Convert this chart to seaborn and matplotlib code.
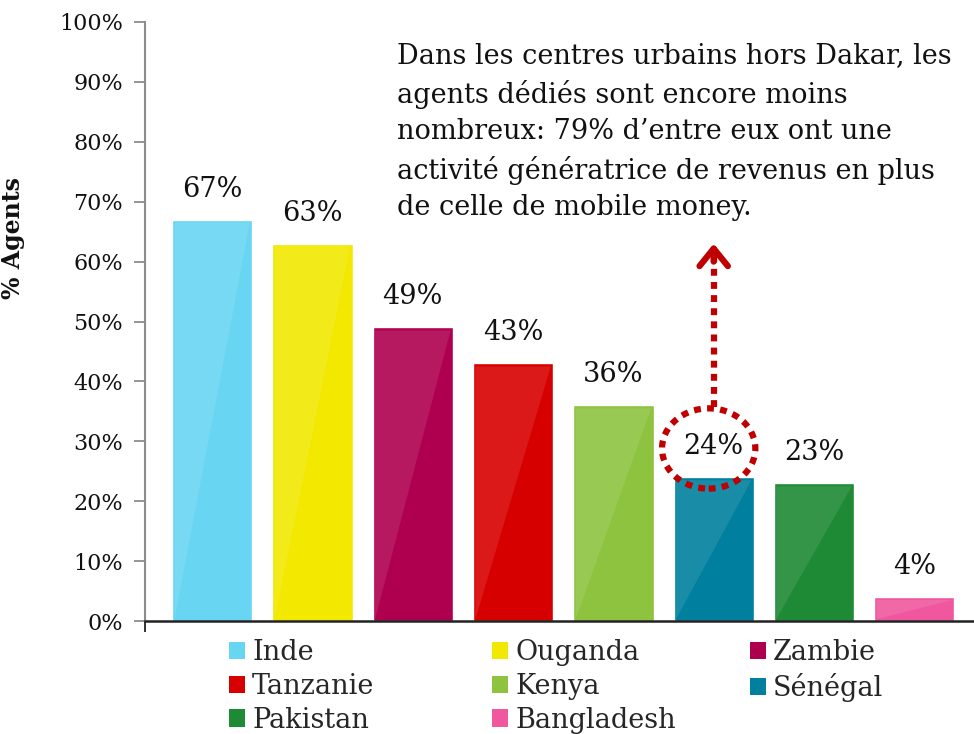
import matplotlib
matplotlib.use("Agg")
import matplotlib.pyplot as plt
import seaborn as sns
import pandas as pd
from matplotlib.patches import Patch, Polygon, Ellipse

countries = ["Inde", "Ouganda", "Zambie", "Tanzanie", "Kenya", "Sénégal", "Pakistan", "Bangladesh"]
values = [67, 63, 49, 43, 36, 24, 23, 4]
colors = ["#68D5F2", "#F2E800", "#AF0050", "#D70000", "#8DC33F", "#007F9F", "#1E8A35", "#F0579E"]
yticks = [0, 10, 20, 30, 40, 50, 60, 70, 80, 90, 100]
annotation = ("Dans les centres urbains hors Dakar, les\n"
              "agents dédiés sont encore moins\n"
              "nombreux: 79% d\u2019entre eux ont une\n"
              "activité génératrice de revenus en plus\n"
              "de celle de mobile money.")

sns.set_theme(style="white")
plt.rcParams["font.family"] = ["DejaVu Serif"]

df = pd.DataFrame({"pays": countries, "val": values})

fig = plt.figure(figsize=(9.74, 7.34), dpi=100)
ax = fig.add_axes([145 / 974, 113 / 734, 836.5 / 974, 599 / 734])

sns.barplot(data=df, x="pays", y="val", hue="pays", palette=colors, order=countries,
            hue_order=countries, width=0.8, saturation=1, legend=False, ax=ax)

# gloss effect derived from each bar
for p in ax.patches:
    x, w, h = p.get_x(), p.get_width(), p.get_height()
    top = max(h - 0.5, 0)
    poly = Polygon([(x + 0.03 * w, top), (x + 0.97 * w, top), (x + 0.03 * w, 0.3)],
                   closed=True, facecolor="white", alpha=0.1, edgecolor="none", zorder=3)
    ax.add_patch(poly)

# value labels
for i, v in enumerate(values):
    ax.annotate(f"{v}%", (i, v), xytext=(0, 22), textcoords="offset points",
                ha="center", va="center", fontsize=19.5, color="#111111", zorder=5)

ax.set_xlim(-0.67, 7.67)
ax.set_ylim(0, 100)
ax.set_yticks(yticks)
ax.set_yticklabels([f"{t}%" for t in yticks], fontsize=16, color="#111111")
ax.set_xticks([-0.67])
ax.set_xticklabels([""])
ax.set_xlabel("")
ax.set_ylabel("% Agents", fontsize=17, fontweight="bold", color="#111111")
ax.yaxis.set_label_coords(-0.1435, 0.64)

for s in ["top", "right"]:
    ax.spines[s].set_visible(False)
ax.spines["left"].set_color("#8C8C8C")
ax.spines["left"].set_linewidth(1.5)
ax.spines["bottom"].set_color("#222222")
ax.spines["bottom"].set_linewidth(1.8)
ax.tick_params(axis="y", which="both", left=True, length=8, width=1.3, color="#8C8C8C", pad=8)
ax.tick_params(axis="x", which="both", bottom=True, length=8, width=1.3, color="#222222", direction="out")

# annotation text
fig.text(397 / 974, 1 - 42 / 734, annotation, ha="left", va="top", fontsize=19.5,
         linespacing=1.46, color="#111111")

# dotted ellipse around Sénégal label and arrow
ell = Ellipse((4.95, 28.8), width=0.93, height=13.4, fill=False, edgecolor="#C00000",
              linewidth=4.5, linestyle=(0, (1.1, 1.0)), zorder=6)
ax.add_patch(ell)
ax.plot([5.0, 5.0], [35.8, 61.5], color="#C00000", linewidth=4.5,
        linestyle=(0, (1.1, 1.0)), zorder=6, solid_capstyle="butt")
ax.annotate("", xy=(5.0, 63.0), xytext=(5.0, 60.0),
            arrowprops=dict(arrowstyle="->,head_length=0.42,head_width=0.34",
                            mutation_scale=30, color="#C00000", linewidth=4.5,
                            capstyle="round", joinstyle="round", shrinkA=0, shrinkB=0),
            zorder=6)

# legends (three columns)
cols = [[0, 3, 6], [1, 4, 7], [2, 5]]
xpos = [229 / 974, 492 / 974, 750 / 974]
for col, xp in zip(cols, xpos):
    handles = [Patch(facecolor=colors[i], edgecolor="none", label=countries[i]) for i in col]
    fig.legend(handles=handles, loc="upper left", bbox_to_anchor=(xp, 1 - 639 / 734),
               frameon=False, fontsize=19.5, handlelength=0.6, handleheight=0.6,
               handletextpad=0.25, labelspacing=0.25, borderaxespad=0, borderpad=0)

fig.savefig("out.png", dpi=100)
